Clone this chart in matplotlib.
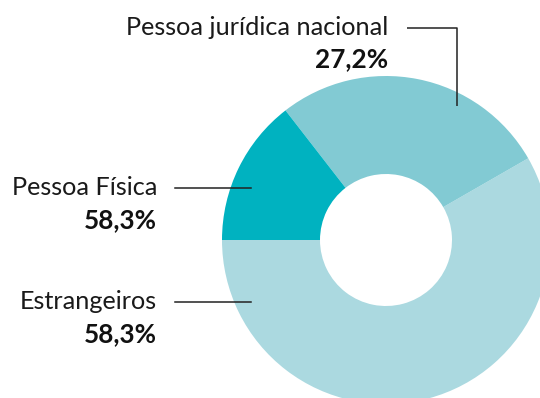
import matplotlib.pyplot as plt

# Composição por tipo de investidor
categorias = ["Estrangeiros", "Pessoa jurídica nacional", "Pessoa Física"]
valores = [58.3, 27.2, 14.5]
rotulos = ["58,3%", "27,2%", "58,3%"]
cores = ["#abd9e0", "#82cad3", "#00b2c0"]

W, H = 540, 398

fig = plt.figure(figsize=(W / 100, H / 100), dpi=100)
ax = fig.add_axes([0, 0, 1, 1])

# rosca em coordenadas de pixel (y medido de baixo para cima)
cx, cy, r = 386, H - 240, 164
ax.pie(valores, colors=cores, startangle=180, counterclock=True,
       center=(cx, cy), radius=r,
       wedgeprops=dict(width=98, linewidth=0))
ax.set_xlim(0, W)
ax.set_ylim(0, H)
ax.axis("off")

fonte = "Lato"
tam = 18.2

# Pessoa jurídica nacional
ax.text(388, H - 35, categorias[1], ha="right", va="baseline",
        fontsize=tam, family=fonte, color="#1a1a1a")
ax.text(388, H - 67, rotulos[1], ha="right", va="baseline",
        fontsize=tam + 0.6, family=fonte, fontweight="bold", color="#111111")
ax.plot([407, 457, 457], [H - 28, H - 28, H - 106], color="#222222", lw=1.1,
        solid_capstyle="butt")

# Pessoa Física
ax.text(157, H - 195, categorias[2], ha="right", va="baseline",
        fontsize=tam, family=fonte, color="#1a1a1a")
ax.text(157, H - 228, rotulos[2], ha="right", va="baseline",
        fontsize=tam + 0.6, family=fonte, fontweight="bold", color="#111111")
ax.plot([175, 251], [H - 188, H - 188], color="#222222", lw=1.1)

# Estrangeiros
ax.text(157, H - 309, categorias[0], ha="right", va="baseline",
        fontsize=tam, family=fonte, color="#1a1a1a")
ax.text(157, H - 342, rotulos[0], ha="right", va="baseline",
        fontsize=tam + 0.6, family=fonte, fontweight="bold", color="#111111")
ax.plot([175, 251], [H - 302, H - 302], color="#222222", lw=1.1)

fig.savefig("out.png", dpi=100)
